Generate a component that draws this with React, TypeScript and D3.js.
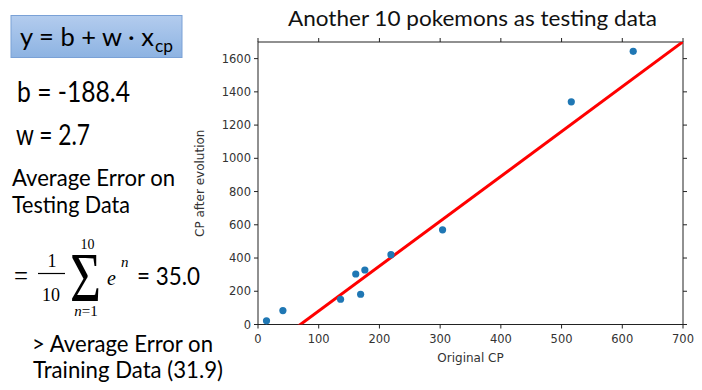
import React, { useRef, useEffect } from 'react';
import * as d3 from 'd3';

// testing data
const originalCP = [14, 41, 136, 161, 169, 176, 219, 304, 516, 618];
const evolvedCP = [22, 84, 152, 304, 182, 328, 420, 570, 1340, 1644];
const xTicks = [0, 100, 200, 300, 400, 500, 600, 700];
const yTicks = [0, 200, 400, 600, 800, 1000, 1200, 1400, 1600];
const b = -188.4;
const w = 2.7;

const sans = "Lato, 'Open Sans', sans-serif";
const axisFont = "'DejaVu Sans', sans-serif";
const serif = "'Liberation Serif', 'DejaVu Serif', serif";

const App = () => {
  const gRef = useRef<SVGGElement>(null);

  useEffect(() => {
    const svg = d3.select(gRef.current);
    svg.selectAll('*').remove();

    const left = 258, right = 683, top = 42, bottom = 324.5;
    const x = d3.scaleLinear().domain([0, 700]).range([left, right]);
    const y = d3.scaleLinear().domain([0, 1700]).range([bottom, top]);

    svg.append('clipPath').attr('id', 'plotclip')
      .append('rect').attr('x', left).attr('y', top).attr('width', right - left).attr('height', bottom - top);

    // title
    svg.append('text').attr('x', 288).attr('y', 25.5)
      .attr('font-family', sans).attr('font-size', 22).attr('fill', '#111')
      .attr('textLength', 369).attr('lengthAdjust', 'spacingAndGlyphs')
      .text('Another 10 pokemons as testing data');

    // frame
    svg.append('rect').attr('x', left).attr('y', top).attr('width', right - left).attr('height', bottom - top)
      .attr('fill', 'none').attr('stroke', '#222').attr('stroke-width', 1);

    const tick = 4;
    const g = svg.append('g').attr('stroke', '#222').attr('stroke-width', 1);
    xTicks.forEach(t => {
      g.append('line').attr('x1', x(t)).attr('x2', x(t)).attr('y1', bottom).attr('y2', bottom + tick);
      g.append('line').attr('x1', x(t)).attr('x2', x(t)).attr('y1', top).attr('y2', top - tick);
    });
    yTicks.forEach(t => {
      g.append('line').attr('x1', left - tick).attr('x2', left).attr('y1', y(t)).attr('y2', y(t));
      g.append('line').attr('x1', right).attr('x2', right + tick).attr('y1', y(t)).attr('y2', y(t));
    });

    svg.append('g').selectAll('text').data(xTicks).enter().append('text')
      .attr('x', d => x(d)).attr('y', bottom + 18).attr('text-anchor', 'middle')
      .attr('font-family', axisFont).attr('font-size', 11.5).attr('fill', '#333')
      .text(d => d);
    svg.append('g').selectAll('text').data(yTicks).enter().append('text')
      .attr('x', left - 7).attr('y', d => y(d) + 4).attr('text-anchor', 'end')
      .attr('font-family', axisFont).attr('font-size', 11.5).attr('fill', '#333')
      .text(d => d);

    svg.append('text').attr('x', (left + right) / 2).attr('y', 362).attr('text-anchor', 'middle')
      .attr('font-family', axisFont).attr('font-size', 12).attr('fill', '#333').text('Original CP');
    svg.append('text').attr('transform', `translate(204, ${(top + bottom) / 2}) rotate(-90)`)
      .attr('text-anchor', 'middle').attr('font-family', axisFont).attr('font-size', 12).attr('fill', '#333')
      .text('CP after evolution');

    // regression line
    const x0 = 0, x1 = 700;
    svg.append('line').attr('clip-path', 'url(#plotclip)')
      .attr('x1', x(x0)).attr('y1', y(b + w * x0)).attr('x2', x(x1)).attr('y2', y(b + w * x1))
      .attr('stroke', '#ff0000').attr('stroke-width', 3);

    // points
    svg.append('g').selectAll('circle').data(originalCP).enter().append('circle')
      .attr('cx', d => x(d)).attr('cy', (d, i) => y(evolvedCP[i])).attr('r', 3.6)
      .attr('fill', '#1f77b4');
  }, []);

  return (
    <svg width={702} height={390}
      style={{ position: 'absolute', left: 0, top: 0, background: '#fff' }}>
      <defs>
        <linearGradient id="boxfill" x1="0" y1="0" x2="0" y2="1">
          <stop offset="0" stopColor="#b3ccee" />
          <stop offset="1" stopColor="#8db3e2" />
        </linearGradient>
      </defs>
      <rect x={11} y={15.5} width={171} height={42} fill="url(#boxfill)" stroke="#7aa1d6" strokeWidth={1} />
      <text x={20} y={46} fontFamily={sans} fontSize={25} fill="#000" textLength={134} lengthAdjust="spacingAndGlyphs">y = b + w · x</text>
      <text x={155} y={51.5} fontFamily={sans} fontSize={17} fill="#000" textLength={18} lengthAdjust="spacingAndGlyphs">cp</text>
      <text x={17} y={101.5} fontFamily={sans} fontSize={28} fill="#000" textLength={113} lengthAdjust="spacingAndGlyphs">b = -188.4</text>
      <text x={16} y={145} fontFamily={sans} fontSize={28} fill="#000" textLength={74} lengthAdjust="spacingAndGlyphs">w = 2.7</text>
      <text x={12} y={185.5} fontFamily={sans} fontSize={23} fill="#000" textLength={163} lengthAdjust="spacingAndGlyphs">Average Error on</text>
      <text x={12} y={213} fontFamily={sans} fontSize={23} fill="#000" textLength={118} lengthAdjust="spacingAndGlyphs">Testing Data</text>

      {/* formula */}
      <text x={14} y={285} fontFamily={serif} fontSize={28} fill="#000" textLength={14} lengthAdjust="spacingAndGlyphs">=</text>
      <text x={52} y={267} fontFamily={serif} fontSize={18} textAnchor="middle" fill="#000">1</text>
      <line x1={38} x2={65} y1={273.5} y2={273.5} stroke="#000" strokeWidth={1.2} />
      <text x={51} y={300.5} fontFamily={serif} fontSize={18} textAnchor="middle" fill="#000">10</text>
      <text x={87.5} y={249} fontFamily={serif} fontSize={14} textAnchor="middle" fill="#000">10</text>
      <text x={70} y={301} fontFamily={serif} fontSize={70} fill="#000" textLength={31} lengthAdjust="spacingAndGlyphs">Σ</text>
      <text x={86} y={316} fontFamily={serif} fontSize={15} textAnchor="middle" fill="#000">
        <tspan fontStyle="italic">n</tspan>=1
      </text>
      <text x={107} y={285} fontFamily={serif} fontSize={20} fontStyle="italic" fill="#000">e</text>
      <text x={121} y={267} fontFamily={serif} fontSize={15} fontStyle="italic" fill="#000">n</text>
      <text x={137} y={285} fontFamily={sans} fontSize={25} fill="#000" textLength={63} lengthAdjust="spacingAndGlyphs">= 35.0</text>

      <text x={32} y={351.5} fontFamily={sans} fontSize={23} fill="#000" textLength={181} lengthAdjust="spacingAndGlyphs">&gt; Average Error on</text>
      <text x={33} y={378} fontFamily={sans} fontSize={23} fill="#000" textLength={190} lengthAdjust="spacingAndGlyphs">Training Data (31.9)</text>
      <g ref={gRef} />
    </svg>
  );
};

export default App;
